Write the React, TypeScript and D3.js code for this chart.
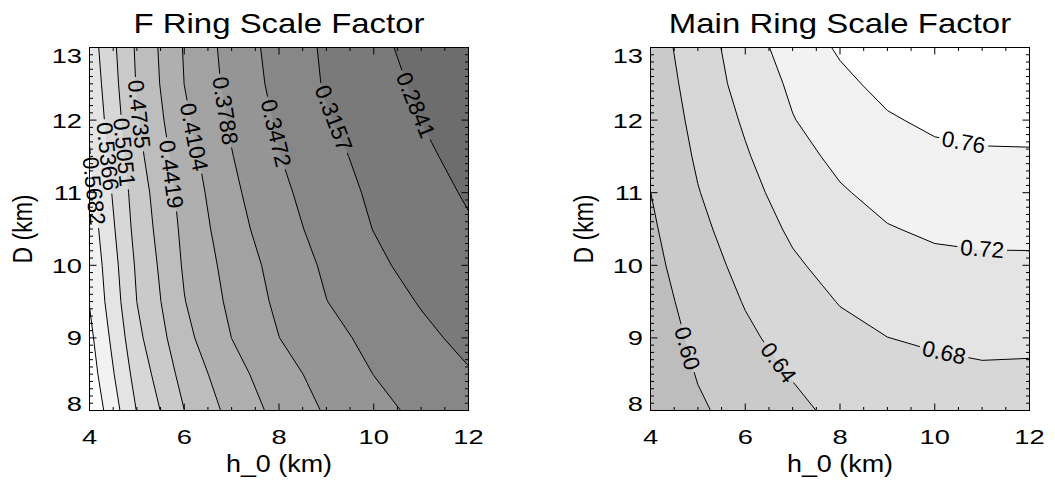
import React from 'react';
import * as d3 from 'd3';

// ---------- data ----------
const H0 = [4, 5, 6, 7, 8, 9, 10, 11, 12];
const D_KM = [8, 8.5, 9, 9.5, 10, 10.5, 11, 11.5, 12, 12.5, 13];

// F ring scale factor, one row per D value (bottom row D=8 first), columns h_0 = 4..12
const F_RING = [
  [0.6274, 0.5354, 0.4737, 0.4323, 0.4008, 0.3756, 0.3569, 0.3398, 0.3285],
  [0.6160, 0.5242, 0.4621, 0.4223, 0.3911, 0.3669, 0.3468, 0.3313, 0.3180],
  [0.6078, 0.5133, 0.4509, 0.4102, 0.3791, 0.3574, 0.3387, 0.3227, 0.3079],
  [0.5985, 0.5049, 0.4431, 0.4034, 0.3724, 0.3477, 0.3305, 0.3136, 0.3000],
  [0.5929, 0.5003, 0.4381, 0.3984, 0.3674, 0.3424, 0.3226, 0.3040, 0.2925],
  [0.5859, 0.4941, 0.4344, 0.3913, 0.3598, 0.3357, 0.3150, 0.3005, 0.2873],
  [0.5779, 0.4897, 0.4299, 0.3855, 0.3542, 0.3303, 0.3106, 0.2957, 0.2809],
  [0.5700, 0.4825, 0.4236, 0.3800, 0.3481, 0.3245, 0.3058, 0.2897, 0.2747],
  [0.5642, 0.4765, 0.4160, 0.3748, 0.3429, 0.3179, 0.3005, 0.2838, 0.2688],
  [0.5586, 0.4713, 0.4102, 0.3693, 0.3378, 0.3128, 0.2956, 0.2790, 0.2645],
  [0.5530, 0.4687, 0.4081, 0.3662, 0.3351, 0.3110, 0.2915, 0.2742, 0.2602],
];

// Main ring scale factor
const MAIN_RING = [
  [0.5630, 0.5945, 0.6150, 0.6312, 0.6490, 0.6537, 0.6575, 0.6620, 0.6606],
  [0.5690, 0.6022, 0.6250, 0.6422, 0.6605, 0.6668, 0.6713, 0.6750, 0.6741],
  [0.5755, 0.6094, 0.6335, 0.6530, 0.6700, 0.6797, 0.6849, 0.6881, 0.6876],
  [0.5820, 0.6167, 0.6421, 0.6639, 0.6816, 0.6925, 0.6984, 0.7012, 0.7011],
  [0.5885, 0.6239, 0.6506, 0.6748, 0.6932, 0.7052, 0.7119, 0.7142, 0.7146],
  [0.5940, 0.6312, 0.6592, 0.6857, 0.7049, 0.7180, 0.7254, 0.7279, 0.7279],
  [0.5998, 0.6384, 0.6677, 0.6966, 0.7165, 0.7308, 0.7390, 0.7420, 0.7425],
  [0.6055, 0.6450, 0.6763, 0.7075, 0.7284, 0.7437, 0.7527, 0.7561, 0.7566],
  [0.6105, 0.6510, 0.6848, 0.7184, 0.7404, 0.7566, 0.7662, 0.7695, 0.7700],
  [0.6155, 0.6565, 0.6940, 0.7265, 0.7523, 0.7695, 0.7793, 0.7820, 0.7825],
  [0.6200, 0.6620, 0.6990, 0.7400, 0.7643, 0.7823, 0.7920, 0.7945, 0.7950],
];

const F_LEVELS = [0.2841, 0.3157, 0.3472, 0.3788, 0.4104, 0.4419, 0.4735, 0.5051, 0.5366, 0.5682, 0.5998];
const MAIN_LEVELS = [0.60, 0.64, 0.68, 0.72, 0.76];

// band grays, darkest (below first level) to lightest
const F_GRAYS = [109, 122, 135, 149, 162, 175, 189, 202, 215, 228, 242, 255];
const MAIN_GRAYS = [189, 202, 215, 228, 242, 255];

// contour label anchors (h_0, D) in data units
const F_LABELS = [
  { level: 0.2841, h: 10.86, d: 12.2 },
  { level: 0.3157, h: 9.12, d: 12.02 },
  { level: 0.3472, h: 7.86, d: 11.81 },
  { level: 0.3788, h: 6.86, d: 12.13 },
  { level: 0.4104, h: 6.16, d: 11.76 },
  { level: 0.4419, h: 5.70, d: 11.25 },
  { level: 0.4735, h: 5.03, d: 12.08 },
  { level: 0.5051, h: 4.77, d: 11.56 },
  { level: 0.5366, h: 4.40, d: 11.5 },
  { level: 0.5682, h: 4.18, d: 11.03 },
];
const MAIN_LABELS = [
  { level: 0.60, h: 4.75, d: 8.85 },
  { level: 0.64, h: 6.68, d: 8.65 },
  { level: 0.68, h: 10.19, d: 8.78 },
  { level: 0.72, h: 11.0, d: 10.21 },
  { level: 0.76, h: 10.61, d: 11.70 },
];

const X_MAJOR = [4, 6, 8, 10, 12];
const Y_MAJOR = [8, 9, 10, 11, 12, 13];
const X_MINOR = d3.range(8, 25).map((v) => v / 2);
const Y_MINOR = d3.range(80, 131).map((v) => v / 10);

// ---------- style ----------
const FONT = '"Liberation Sans", Arial, Helvetica, sans-serif';
const S_TICK = 1.3;
const S_TITLE = 1.22;
const S_AXIS = 1.17;
const S_LABEL = 1.0;
const FS_TICK = 21;
const FS_TITLE = 27;
const FS_AXIS = 23;
const FS_LABEL = 22.5;
const PAD = 3;

function textWidth(s: string, fs: number) {
  let w = 0;
  for (const ch of s) w += ch === '.' ? 0.278 : 0.556;
  return w * fs;
}

type Pt = [number, number];

function nearestOnRings(rings: Pt[][], ax: number, ay: number, inside: (p: Pt) => boolean) {
  let best: any = null;
  rings.forEach((ring, ri) => {
    for (let i = 0; i < ring.length - 1; i++) {
      const a = ring[i], b = ring[i + 1];
      if (!inside(a) || !inside(b)) continue;
      const dx = b[0] - a[0], dy = b[1] - a[1];
      const L2 = dx * dx + dy * dy;
      if (L2 === 0) continue;
      let t = ((ax - a[0]) * dx + (ay - a[1]) * dy) / L2;
      t = Math.max(0, Math.min(1, t));
      const px = a[0] + t * dx, py = a[1] + t * dy;
      const d = (px - ax) ** 2 + (py - ay) ** 2;
      if (!best || d < best.d) best = { d, ri, i, t };
    }
  });
  return best;
}

function chord(rings: Pt[][], best: any, halfLen: number): [Pt, Pt] {
  const ring = rings[best.ri];
  const cum = [0];
  for (let i = 0; i < ring.length - 1; i++) {
    cum.push(cum[i] + Math.hypot(ring[i + 1][0] - ring[i][0], ring[i + 1][1] - ring[i][1]));
  }
  const total = cum[cum.length - 1];
  const s0 = cum[best.i] + best.t * (cum[best.i + 1] - cum[best.i]);
  const at = (s: number): Pt => {
    s = ((s % total) + total) % total;
    for (let i = 0; i < ring.length - 1; i++) {
      if (s <= cum[i + 1]) {
        const seg = cum[i + 1] - cum[i] || 1;
        const t = (s - cum[i]) / seg;
        return [ring[i][0] + t * (ring[i + 1][0] - ring[i][0]), ring[i][1] + t * (ring[i + 1][1] - ring[i][1])];
      }
    }
    return ring[ring.length - 1];
  };
  return [at(s0 - halfLen), at(s0 + halfLen)];
}

type PanelProps = {
  id: string;
  left: number;
  right: number;
  top: number;
  bottom: number;
  title: string;
  grid: number[][];
  levels: number[];
  grays: number[];
  labels: { level: number; h: number; d: number }[];
  digits: number;
};

function Panel({ id, left, right, top, bottom, title, grid, levels, grays, labels, digits }: PanelProps) {
  const xScale = d3.scaleLinear().domain([4, 12]).range([left, right]);
  const yScale = d3.scaleLinear().domain([8, 13]).range([bottom, top]);
  const nx = H0.length, ny = D_KM.length;
  const gx = d3.scaleLinear().domain([0.5, nx - 0.5]).range([xScale(H0[0]), xScale(H0[nx - 1])]);
  const gy = d3.scaleLinear().domain([0.5, ny - 0.5]).range([yScale(D_KM[0]), yScale(D_KM[ny - 1])]);

  const contours = d3.contours().size([nx, ny]).thresholds(levels).smooth(true)(grid.flat());
  const pixelRings: Pt[][][] = contours.map((c: any) =>
    c.coordinates.flatMap((poly: number[][][]) =>
      poly.map((ring: number[][]) => ring.map(([x, y]) => [gx(x), gy(y)] as Pt))
    )
  );
  const pathOf = (rings: Pt[][]) =>
    rings.map((r) => 'M' + r.map((p) => p[0].toFixed(2) + ',' + p[1].toFixed(2)).join('L') + 'Z').join('');

  const inside = (p: Pt) => p[0] >= left - 0.5 && p[0] <= right + 0.5 && p[1] >= top - 0.5 && p[1] <= bottom + 0.5;

  const placed = labels.map((lb) => {
    const li = levels.indexOf(lb.level);
    const rings = pixelRings[li];
    const txt = lb.level.toFixed(digits);
    const w = textWidth(txt, FS_LABEL);
    const ax = xScale(lb.h), ay = yScale(lb.d);
    const best = nearestOnRings(rings, ax, ay, inside);
    let [p1, p2] = chord(rings, best, 10);
    let vx = p2[0] - p1[0], vy = p2[1] - p1[1];
    if (vx < 0) { vx = -vx; vy = -vy; }
    let th = Math.atan2(vy, vx / S_LABEL);
    const Ls = (w + 2 * PAD) * Math.hypot(S_LABEL * Math.cos(th), Math.sin(th));
    [p1, p2] = chord(rings, best, Ls / 2);
    vx = p2[0] - p1[0]; vy = p2[1] - p1[1];
    if (vx < 0) { vx = -vx; vy = -vy; }
    th = Math.atan2(vy, vx / S_LABEL);
    const cx = (p1[0] + p2[0]) / 2, cy = (p1[1] + p2[1]) / 2;
    const tf = `translate(${cx.toFixed(2)},${cy.toFixed(2)}) scale(${S_LABEL},1) rotate(${((th * 180) / Math.PI).toFixed(2)})`;
    return { txt, w, tf };
  });

  const g = (v: number) => `rgb(${v},${v},${v})`;
  const cxMid = (left + right) / 2;
  const cyMid = (top + bottom) / 2;
  const capH = 0.716 * FS_TICK;

  return (
    <g>
      <defs>
        <clipPath id={`clip-${id}`}>
          <rect x={left} y={top} width={right - left} height={bottom - top} />
        </clipPath>
        <mask id={`mask-${id}`} maskUnits="userSpaceOnUse" x={0} y={0} width={1055} height={485}>
          <rect x={0} y={0} width={1055} height={485} fill="#fff" />
          {placed.map((p, i) => (
            <rect key={i} transform={p.tf} x={-p.w / 2 - PAD} y={-FS_LABEL * 0.42} width={p.w + 2 * PAD} height={FS_LABEL * 0.84} fill="#000" />
          ))}
        </mask>
      </defs>

      <g clipPath={`url(#clip-${id})`}>
        <rect x={left} y={top} width={right - left} height={bottom - top} fill={g(grays[0])} />
        {pixelRings.map((rings, i) => (
          <path key={i} d={pathOf(rings)} fill={g(grays[i + 1])} fillRule="evenodd" stroke="none" />
        ))}
      </g>
      <g clipPath={`url(#clip-${id})`}>
        <g mask={`url(#mask-${id})`}>
          {pixelRings.map((rings, i) => (
            <path key={i} d={pathOf(rings)} fill="none" stroke="#000" strokeWidth={1} />
          ))}
        </g>
      </g>

      {placed.map((p, i) => (
        <text key={i} transform={p.tf} textAnchor="middle" dy="0.36em" fontSize={FS_LABEL} fill="#000">
          {p.txt}
        </text>
      ))}

      <rect x={left} y={top} width={right - left} height={bottom - top} fill="none" stroke="#000" strokeWidth={1} />

      {X_MINOR.map((v) => {
        const major = X_MAJOR.includes(v);
        const len = major ? 7 : 3.5;
        const x = xScale(v);
        return (
          <g key={`x${v}`} stroke="#000" strokeWidth={1}>
            <line x1={x} x2={x} y1={bottom} y2={bottom - len} />
            <line x1={x} x2={x} y1={top} y2={top + len} />
          </g>
        );
      })}
      {Y_MINOR.map((v) => {
        const major = Y_MAJOR.some((m) => Math.abs(m - v) < 1e-9);
        const len = major ? 7 : 3.5;
        const y = yScale(v);
        return (
          <g key={`y${v}`} stroke="#000" strokeWidth={1}>
            <line x1={left} x2={left + len} y1={y} y2={y} />
            <line x1={right} x2={right - len} y1={y} y2={y} />
          </g>
        );
      })}

      {X_MAJOR.map((v) => (
        <text key={`xl${v}`} transform={`translate(${xScale(v)},444.3) scale(${S_TICK},1)`} textAnchor="middle" fontSize={FS_TICK}>
          {v}
        </text>
      ))}
      {Y_MAJOR.map((v) => {
        const yc = Math.max(top + capH / 2, Math.min(bottom - capH / 2, yScale(v)));
        return (
          <text key={`yl${v}`} transform={`translate(${left - 7.5},${yc + capH / 2}) scale(${S_TICK},1)`} textAnchor="end" fontSize={FS_TICK}>
            {v}
          </text>
        );
      })}

      <text transform={`translate(${cxMid},33.3) scale(${S_TITLE},1)`} textAnchor="middle" fontSize={FS_TITLE}>
        {title}
      </text>
      <text transform={`translate(${cxMid},471.7) scale(${S_AXIS},1)`} textAnchor="middle" fontSize={FS_AXIS}>
        h_0 (km)
      </text>
      <text transform={`translate(${left - 57.7},${cyMid}) scale(${S_AXIS},1) rotate(-90)`} textAnchor="middle" fontSize={FS_AXIS}>
        D (km)
      </text>
    </g>
  );
}

export default function App() {
  return (
    <svg width={1055} height={485} style={{ position: 'absolute', left: 0, top: 0, background: '#fff' }} fontFamily={FONT}>
      <rect x={0} y={0} width={1055} height={485} fill="#fff" />
      <Panel id="f" left={89.5} right={468.5} top={47.5} bottom={410.5} title="F Ring Scale Factor"
        grid={F_RING} levels={F_LEVELS} grays={F_GRAYS} labels={F_LABELS} digits={4} />
      <Panel id="m" left={650.5} right={1029.5} top={47.5} bottom={410.5} title="Main Ring Scale Factor"
        grid={MAIN_RING} levels={MAIN_LEVELS} grays={MAIN_GRAYS} labels={MAIN_LABELS} digits={2} />
    </svg>
  );
}
